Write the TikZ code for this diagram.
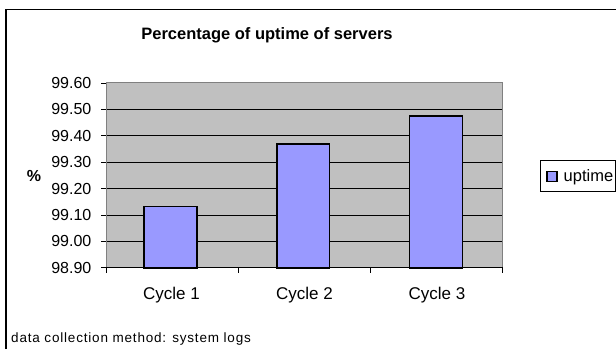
\documentclass[tikz,border=0pt]{standalone}
\usepackage{fontspec}
\setmainfont{Liberation Sans}
\definecolor{plotgray}{HTML}{C0C0C0}
\definecolor{barblue}{HTML}{9999FF}
\definecolor{axisgray}{HTML}{808080}

\begin{document}
\begin{tikzpicture}[x=1pt,y=1pt,
  ylab/.style={anchor=east, inner sep=0pt, font=\fontsize{16}{19}\selectfont},
  catlab/.style={anchor=base, inner sep=0pt, font=\fontsize{17}{20}\selectfont},
  barbox/.style={fill=barblue, draw=black, line width=1.6pt}]
\useasboundingbox (0,0) rectangle (616,349);

% chart frame
\draw [line width=1.3pt] (6,0) -- (6,339.5) -- (616,339.5);

\node[anchor=base, inner sep=0pt, font=\bfseries\fontsize{16.5}{19}\selectfont] (title) at (267,309) {Percentage of uptime of servers};

% plot area
\fill [plotgray] (106,81.3) rectangle (502.7,266.1);
\foreach \k in {1,...,6}
  \draw [line width=0.8pt] (106,81.3+26.4*\k) -- (502.7,81.3+26.4*\k);
\draw [axisgray, line width=1pt] (106,81.3) -- (106,266.1) -- (502.7,266.1) -- (502.7,81.3);

% value axis
\foreach \k/\lab in {0/98.90,1/99.00,2/99.10,3/99.20,4/99.30,5/99.40,6/99.50,7/99.60} {
  \draw [line width=0.8pt] (101,81.3+26.4*\k) -- (106,81.3+26.4*\k);
  \node[ylab] (y\k) at (91.5,81.3+26.4*\k) {\lab};
}
\node[inner sep=0pt, font=\bfseries\fontsize{16}{19}\selectfont] (pct) at (34,173.5) {\%};

% bars
\draw [barbox] (144,81.3) rectangle (196.7,142.7);
\draw [barbox] (276.7,81.3) rectangle (329.3,205);
\draw [barbox] (409.3,81.3) rectangle (462.3,233);

% category axis
\draw [line width=1pt] (106,81.3) -- (502.7,81.3);
\foreach \x in {106,238.2,370.4,502.7}
  \draw [line width=0.8pt] (\x,81.3) -- (\x,76);
\node[catlab] (c1) at (171.5,50) {Cycle 1};
\node[catlab] (c2) at (304.5,50) {Cycle 2};
\node[catlab] (c3) at (437,50) {Cycle 3};

% legend
\draw [line width=0.8pt] (540.7,157.7) rectangle (615.3,188.8);
\draw [fill=barblue, draw=black, line width=1.2pt] (547,167.5) rectangle (557,177.5);
\node[anchor=base west, inner sep=0pt, font=\fontsize{16.5}{19}\selectfont] (leg) at (563.5,168) {uptime};

% note
\node[anchor=base west, inner sep=0pt, font=\fontsize{13.5}{16}\selectfont\addfontfeatures{LetterSpace=6}] (note) at (11,6.5) {data collection method: system logs};
\end{tikzpicture}
\end{document}
